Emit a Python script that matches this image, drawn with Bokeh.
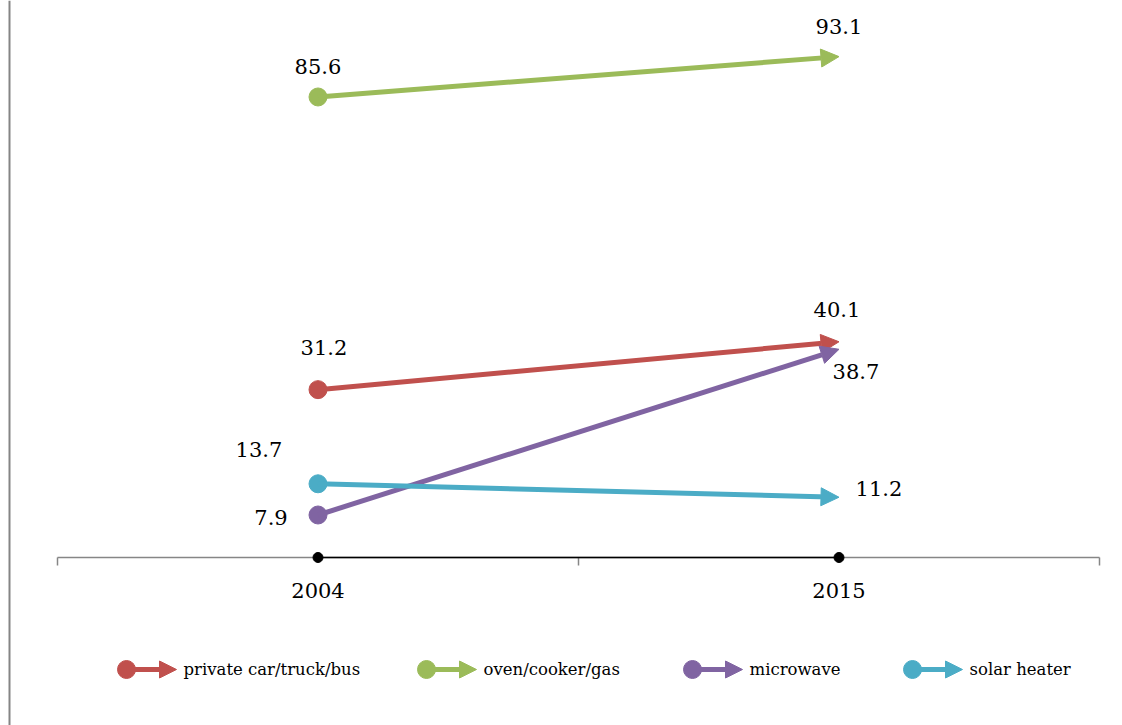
from bokeh.plotting import figure
from bokeh.models import (Range1d, LinearAxis, FixedTicker, CustomJSTickFormatter,
                          Arrow, NormalHead)
from bokeh.core.properties import value
from bokeh.embed import file_html
from bokeh.resources import INLINE

# ---- data ----
years = ["2004", "2015"]
series = ["private car/truck/bus", "oven/cooker/gas", "microwave", "solar heater"]
v2004 = [31.2, 85.6, 7.9, 13.7]
v2015 = [40.1, 93.1, 38.7, 11.2]
colors = ["#C0504D", "#9BBB59", "#8064A2", "#4BACC6"]

# ---- label placement (pixel offsets, layout only) ----
lab_dx_2004 = [6, 0, -47, -59]
lab_dy_2004 = [-42, -30, 3, -34]
lab_dx_2015 = [-2, 0, 17, 40]
lab_dy_2015 = [-32, -30, 22, -9]

W, H = 1122, 725
AXIS_Y = 557      # pixel row of the category axis
LEFT = 57         # pixel column of the axis start
CAT_W = 521.0     # pixels per category
PPU = 5.38        # pixels per value unit

FONT = "DejaVu Serif"
LABEL_SIZE = "21px"
LEGEND_SIZE = "16.5px"

p = figure(width=W, height=H,
           x_range=Range1d(-LEFT / CAT_W, (W - LEFT) / CAT_W),
           y_range=Range1d(-(H - AXIS_Y) / PPU, AXIS_Y / PPU),
           output_backend="svg", toolbar_location=None, min_border=0,
           x_axis_type=None, y_axis_type=None, outline_line_color=None,
           title=None, background_fill_color="white", border_fill_color="white")
p.extra_x_ranges = {"px": Range1d(0, W)}
p.extra_y_ranges = {"px": Range1d(H, 0)}

n = len(series)
xs = [i + 0.5 for i in range(len(years))]

# category axis placed at value 0
ax = LinearAxis(fixed_location=0, bounds=(0, len(years)),
                ticker=FixedTicker(ticks=xs, minor_ticks=list(range(len(years) + 1))),
                formatter=CustomJSTickFormatter(args=dict(labels=years),
                                                code="return labels[Math.floor(tick)]"),
                axis_line_color="#868686", axis_line_width=1.5,
                major_tick_line_color=None, major_tick_in=0, major_tick_out=0,
                minor_tick_line_color="#868686", minor_tick_line_width=1.5,
                minor_tick_in=0, minor_tick_out=8,
                major_label_text_font=FONT, major_label_text_font_size=LABEL_SIZE,
                major_label_text_color="black", major_label_standoff=17)
p.add_layout(ax, "below")

# black baseline series between the two years
p.line(xs, [0] * len(xs), line_color="black", line_width=1.5, level="overlay")
p.scatter(xs, [0] * len(xs), size=10, color="black", level="overlay")

# arrows per series
for i in range(n):
    c = colors[i]
    p.add_layout(Arrow(end=NormalHead(size=18, fill_color=c, line_color=c, line_width=1),
                       x_start=xs[0], y_start=v2004[i], x_end=xs[1], y_end=v2015[i],
                       line_color=c, line_width=5))
p.scatter([xs[0]] * n, v2004, size=18, color=colors)

# data labels
p.text([xs[0]] * n, v2004, text=[f"{v:.1f}" for v in v2004],
       x_offset=lab_dx_2004, y_offset=lab_dy_2004,
       text_font=value(FONT), text_font_size=LABEL_SIZE, text_color="black",
       text_align="center", text_baseline="middle")
p.text([xs[1]] * n, v2015, text=[f"{v:.1f}" for v in v2015],
       x_offset=lab_dx_2015, y_offset=lab_dy_2015,
       text_font=value(FONT), text_font_size=LABEL_SIZE, text_color="black",
       text_align="center", text_baseline="middle")

# legend (pixel coordinates)
leg_cx = [126, 426, 692, 912]
leg_y = 669
p.scatter(leg_cx, [leg_y] * n, size=18, color=colors,
          x_range_name="px", y_range_name="px")
for i in range(n):
    c = colors[i]
    p.add_layout(Arrow(end=NormalHead(size=17, fill_color=c, line_color=c, line_width=1),
                       x_start=leg_cx[i], y_start=leg_y, x_end=leg_cx[i] + 50, y_end=leg_y,
                       line_color=c, line_width=5,
                       x_range_name="px", y_range_name="px"))
p.text([cx + 57 for cx in leg_cx], [leg_y] * n, text=series,
       text_font=value(FONT), text_font_size=LEGEND_SIZE, text_color="black",
       text_align="left", text_baseline="middle",
       x_range_name="px", y_range_name="px")

# left frame border
p.segment(x0=[9], y0=[0], x1=[9], y1=[H], line_color="#858585", line_width=2,
          x_range_name="px", y_range_name="px")

open("out.html", "w").write(file_html(p, INLINE))
